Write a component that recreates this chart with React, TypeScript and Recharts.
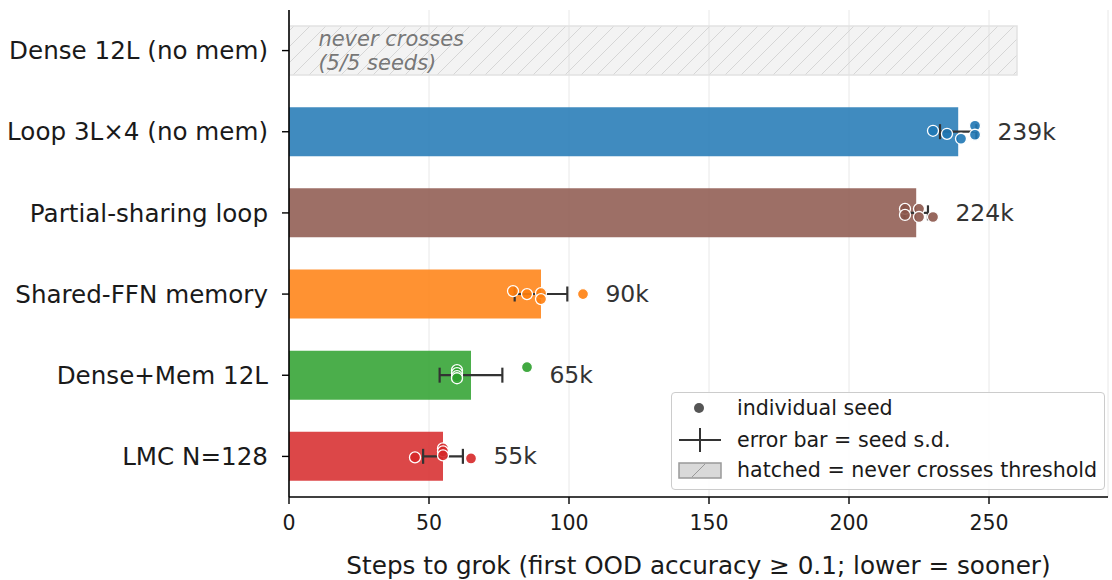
import React from 'react';
import { ComposedChart, Bar, XAxis, YAxis, CartesianGrid, Scatter, ErrorBar, Cell } from 'recharts';

const categories = [
  'Dense 12L (no mem)',
  'Loop 3L×4 (no mem)',
  'Partial-sharing loop',
  'Shared-FFN memory',
  'Dense+Mem 12L',
  'LMC N=128',
];
const barValues = [260, 239, 224, 90, 65, 55];
const errValues: (number | null)[] = [null, 6.5, 4.2, 9.4, 11.2, 7.1];
const valueLabels = ['', '239k', '224k', '90k', '65k', '55k'];
const seeds: number[][] = [
  [],
  [230, 235, 240, 245, 245],
  [220, 220, 225, 225, 230],
  [80, 85, 90, 90, 105],
  [60, 60, 60, 60, 85],
  [45, 55, 55, 55, 65],
];
const seedJitter: number[][] = [
  [],
  [-0.012, 0.025, 0.086, -0.074, 0.037],
  [-0.05, 0.025, -0.05, 0.05, 0.05],
  [-0.037, 0, -0.012, 0.062, 0],
  [-0.062, -0.025, 0.012, 0.037, -0.099],
  [0.012, -0.099, -0.062, -0.012, 0.025],
];
const colors = ['#d9d9d9', '#1f77b4', '#8c564b', '#ff7f0e', '#2ca02c', '#d62728'];
const xTicks = [0, 50, 100, 150, 200, 250];
const hatchedIndex = 0;
const labelGap = 8;
const hatchNoteX = 10.5;

const FONT = "'DejaVu Sans', sans-serif";

const barData = categories.map((name, i) => ({ name, value: barValues[i], err: errValues[i] }));
const seedData = seeds.flatMap((arr, c) => arr.map((v, k) => ({ v, p: c + seedJitter[c][k], c })));
const labelData = seeds
  .map((arr, c) => ({ v: arr.length ? Math.max(...arr) + labelGap : 0, p: c, t: valueLabels[c] }))
  .filter((d) => d.t);
const noteData = [{ v: hatchNoteX, p: hatchedIndex }];

const SeedDot = (props: any) => {
  const { cx, cy, payload } = props;
  return (
    <circle cx={cx} cy={cy} r={5.5} fill={colors[payload.c]} fillOpacity={0.9} stroke="#ffffff" strokeWidth={1.3} />
  );
};

const ValueLabel = (props: any) => {
  const { cx, cy, payload } = props;
  return (
    <text x={cx} y={cy} dominantBaseline="central" fontSize={23.5} fill="#333" fontFamily={FONT}>
      {payload.t}
    </text>
  );
};

const NoteLabel = (props: any) => {
  const { cx, cy } = props;
  return (
    <text x={cx} y={cy} fontSize={21} fill="#777" fontStyle="italic" fontFamily={FONT}>
      <tspan x={cx} y={cy - 12} dominantBaseline="central">never crosses</tspan>
      <tspan x={cx} y={cy + 12} dominantBaseline="central">(5/5 seeds)</tspan>
    </text>
  );
};

const Legend = () => (
  <div
    style={{
      position: 'absolute',
      left: 671,
      top: 392,
      width: 432,
      height: 96,
      border: '1.5px solid #cccccc',
      borderRadius: 4,
      background: 'rgba(255,255,255,0.85)',
      fontFamily: FONT,
    }}
  >
    <svg width={432} height={96} style={{ position: 'absolute', left: 0, top: 0 }}>
      <circle cx={27} cy={15} r={5} fill="#555" />
      <line x1={7} y1={47} x2={49} y2={47} stroke="#333" strokeWidth={2} />
      <line x1={28} y1={35} x2={28} y2={59} stroke="#333" strokeWidth={2} />
      <rect x={7} y={70} width={42} height={15} fill="#d9d9d9" stroke="#999" strokeWidth={1.5} />
      <line x1={20} y1={84} x2={33} y2={71} stroke="#999" strokeWidth={1} />
      <text x={65} y={15} dominantBaseline="central" fontSize={20.6} fill="#1a1a1a" fontFamily={FONT}>individual seed</text>
      <text x={65} y={47} dominantBaseline="central" fontSize={20.6} fill="#1a1a1a" fontFamily={FONT}>error bar = seed s.d.</text>
      <text x={65} y={77} dominantBaseline="central" fontSize={20.6} fill="#1a1a1a" fontFamily={FONT}>hatched = never crosses threshold</text>
    </svg>
  </div>
);

export default function App() {
  return (
    <div style={{ position: 'absolute', left: 0, top: 0, width: 1112, height: 580, background: '#fff', fontFamily: FONT }}>
      <svg width={0} height={0} style={{ position: 'absolute' }}>
        <defs>
          <pattern id="hatch" patternUnits="userSpaceOnUse" width={16} height={16}>
            <rect x={0} y={0} width={16} height={16} fill="rgba(200,200,200,0.22)" />
            <path d="M0,16 L16,0 M-4,4 L4,-4 M12,20 L20,12" stroke="#d6d6d6" strokeWidth={1} />
          </pattern>
        </defs>
      </svg>
      <ComposedChart
        width={1112}
        height={580}
        layout="vertical"
        data={barData}
        margin={{ top: 10, right: 4, bottom: 0, left: 0 }}
        style={{ fontFamily: FONT }}
      >
        <CartesianGrid horizontal={false} vertical stroke="#e8e8e8" strokeWidth={1} />
        <XAxis
          type="number"
          domain={[0, 292.5]}
          ticks={xTicks}
          allowDataOverflow
          height={83}
          tickSize={7}
          tickMargin={11}
          axisLine={{ stroke: '#000', strokeWidth: 1.6 }}
          tickLine={{ stroke: '#000', strokeWidth: 1.4 }}
          tick={{ fontSize: 20.5, fill: '#1a1a1a', fontFamily: FONT }}
          label={{
            value: 'Steps to grok (first OOD accuracy ≥ 0.1; lower = sooner)',
            position: 'insideBottom',
            offset: 6,
            fontSize: 24.7,
            fill: '#1a1a1a',
            fontFamily: FONT,
          }}
        />
        <YAxis
          type="category"
          dataKey="name"
          width={289}
          tickSize={7}
          tickMargin={14}
          axisLine={{ stroke: '#000', strokeWidth: 1.6 }}
          tickLine={{ stroke: '#000', strokeWidth: 1.4 }}
          tick={{ fontSize: 24.6, fill: '#1a1a1a', fontFamily: FONT }}
        />
        <YAxis yAxisId="s" type="number" dataKey="p" domain={[-0.5, 5.5]} hide allowDataOverflow />
        <Bar dataKey="value" barSize={49} isAnimationActive={false}>
          {barData.map((d, i) =>
            i === hatchedIndex ? (
              <Cell key={i} fill="url(#hatch)" stroke="#e2e2e2" strokeWidth={1.5} />
            ) : (
              <Cell key={i} fill={colors[i]} fillOpacity={0.85} />
            )
          )}
          <ErrorBar dataKey="err" direction="x" width={7.5} stroke="#333" strokeWidth={2.2} isAnimationActive={false} />
        </Bar>
        <Scatter yAxisId="s" data={seedData} dataKey="v" shape={SeedDot} isAnimationActive={false} />
        <Scatter yAxisId="s" data={labelData} dataKey="v" shape={ValueLabel} isAnimationActive={false} />
        <Scatter yAxisId="s" data={noteData} dataKey="v" shape={NoteLabel} isAnimationActive={false} />
      </ComposedChart>
      <Legend />
    </div>
  );
}
